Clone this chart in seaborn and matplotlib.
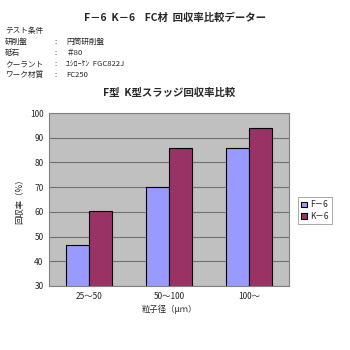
import matplotlib
matplotlib.use("Agg")
import matplotlib.pyplot as plt
import seaborn as sns
import pandas as pd

categories = ["25～50", "50～100", "100～"]
series_names = ["F－6", "K－6"]
f6_values = [46.5, 70, 86]
k6_values = [60.5, 86, 94]
y_ticks = [30, 40, 50, 60, 70, 80, 90, 100]

sns.set_theme(style="white")
plt.rcParams['font.family'] = ['Noto Sans CJK JP', 'DejaVu Sans']

df = pd.DataFrame({
    "cat": categories * 2,
    "series": [series_names[0]] * 3 + [series_names[1]] * 3,
    "val": f6_values + k6_values,
})

fig = plt.figure(figsize=(3.5, 3.5), dpi=100)
ax = fig.add_axes([0.14, 0.183, 0.686, 0.494])
ax.set_facecolor("#C0C0C0")
palette = {series_names[0]: "#9999FF", series_names[1]: "#993366"}
sns.barplot(data=df, x="cat", y="val", hue="series", palette=palette,
            width=0.575, edgecolor="black", linewidth=0.8, ax=ax,
            saturation=1, zorder=3)
ax.set_ylim(30, 100)
ax.set_yticks(y_ticks)
ax.yaxis.grid(True, color="#707070", linewidth=0.8, zorder=0)
ax.set_axisbelow(True)
for s in ax.spines.values():
    s.set_color("#808080")
    s.set_linewidth(0.8)
ax.tick_params(axis="both", labelsize=6, length=0, pad=4)
ax.set_xlabel("粒子径（μｍ）", fontsize=6, labelpad=3)
ax.set_ylabel("回収率（%）", fontsize=6, labelpad=4)
ax.set_title("F型  K型スラッジ回収率比較", fontsize=7.5, pad=12, fontweight="bold")

leg = ax.legend(loc="center left", bbox_to_anchor=(1.02, 0.435), fontsize=6,
                frameon=True, fancybox=False, edgecolor="#808080",
                handlelength=0.7, handleheight=0.7, handletextpad=0.3,
                borderpad=0.4, labelspacing=0.3)
leg.get_frame().set_linewidth(0.6)

fig.text(0.5, 0.948, "F－6  K－6    FC材  回収率比較データー", ha="center",
         va="center", fontsize=7.5, fontweight="bold")
rows = [("テスト条件", ""), ("研削盤", "円筒研削盤"), ("砥石", "＃80"),
        ("クーラント", "ﾕｼﾛｰｹﾝ  FGC822J"), ("ワーク材質", "FC250")]
for i, (a, b) in enumerate(rows):
    y = 1 - (31 + 11 * i) / 350
    fig.text(0.014, y, a, fontsize=5.5, va="center")
    if b:
        fig.text(0.155, y, ":", fontsize=5.5, va="center")
        fig.text(0.19, y, b, fontsize=5.5, va="center")

fig.savefig("out.png", dpi=100)
